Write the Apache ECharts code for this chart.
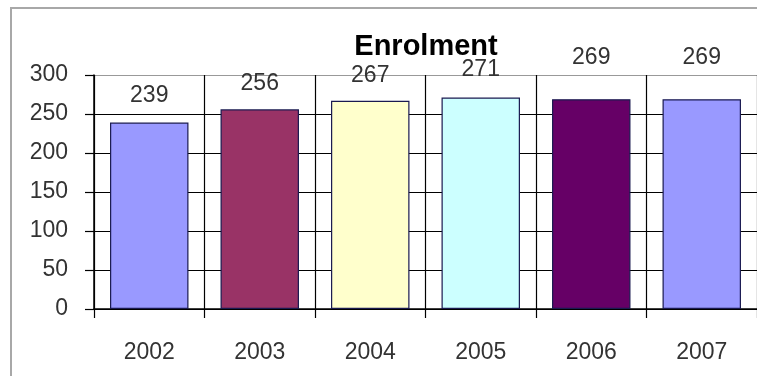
<!DOCTYPE html>
<html style="height: 100%">
<head>
<meta charset="utf-8">
<script src="https://cdn.jsdelivr.net/npm/echarts@6/dist/echarts.min.js"></script>
</head>
<body style="height: 100%; margin: 0; background: #fff">
<div id="container" style="width: 757px; height: 376px"></div>
<script type="text/javascript">
var years = ['2002', '2003', '2004', '2005', '2006', '2007'];
var enrolment = [239, 256, 267, 271, 269, 269];
var yTicks = [0, 50, 100, 150, 200, 250, 300];

// bar fills, old excel palette
var barColors = ['#9999ff', '#993366', '#ffffcc', '#ccffff', '#660066', '#9999ff'];
// label gap above each bar, as drawn in the original
var labelGap = [15, 14, 14, 16, 30, 30];

var dom = document.getElementById('container');
var myChart = echarts.init(dom);

var barData = [];
for (var i = 0; i < enrolment.length; i++) {
    barData.push({
        value: enrolment[i],
        itemStyle: { color: barColors[i] },
        label: { distance: labelGap[i] }
    });
}

var option = {
    animation: false,
    title: {
        text: 'Enrolment',
        left: 421,
        top: 27,
        textAlign: 'center',
        textStyle: { fontFamily: 'Liberation Sans, Arial', fontWeight: 'bold', fontSize: 29, color: '#000' }
    },
    graphic: [{
        type: 'rect',
        shape: { x: 11, y: 8, width: 800, height: 420 },
        style: { fill: null, stroke: '#a8a8a8', lineWidth: 2 },
        z: -1
    }],
    grid: { left: 94, top: 75, width: 666, height: 234 },
    xAxis: {
        type: 'category',
        data: years,
        axisLine: { lineStyle: { color: '#000', width: 1.5 } },
        axisTick: { show: true, length: 9, inside: false, lineStyle: { color: '#000', width: 1.2 } },
        splitLine: { show: true, interval: 0, lineStyle: { color: '#000', width: 1.2 } },
        axisLabel: { margin: 32, fontFamily: 'Liberation Sans, Arial', fontSize: 23, color: '#333' }
    },
    yAxis: {
        type: 'value',
        min: yTicks[0],
        max: yTicks[yTicks.length - 1],
        interval: 50,
        axisLine: { show: true, lineStyle: { color: '#000', width: 1.5 } },
        axisTick: { show: true, inside: false, length: 9, lineStyle: { color: '#000', width: 1.2 } },
        splitLine: {
            show: true,
            lineStyle: { color: ['#000', '#000', '#000', '#000', '#000', '#000', '#999'], width: 1.2 }
        },
        axisLabel: { margin: 26, fontFamily: 'Liberation Sans, Arial', fontSize: 23, color: '#333' }
    },
    series: [{
        type: 'bar',
        data: barData,
        barCategoryGap: '29%',
        itemStyle: { borderColor: '#1a1a50', borderWidth: 1.2 },
        label: {
            show: true,
            position: 'top',
            fontFamily: 'Liberation Sans, Arial',
            fontSize: 23,
            color: '#333'
        }
    }]
};

myChart.setOption(option);
</script>
</body>
</html>
